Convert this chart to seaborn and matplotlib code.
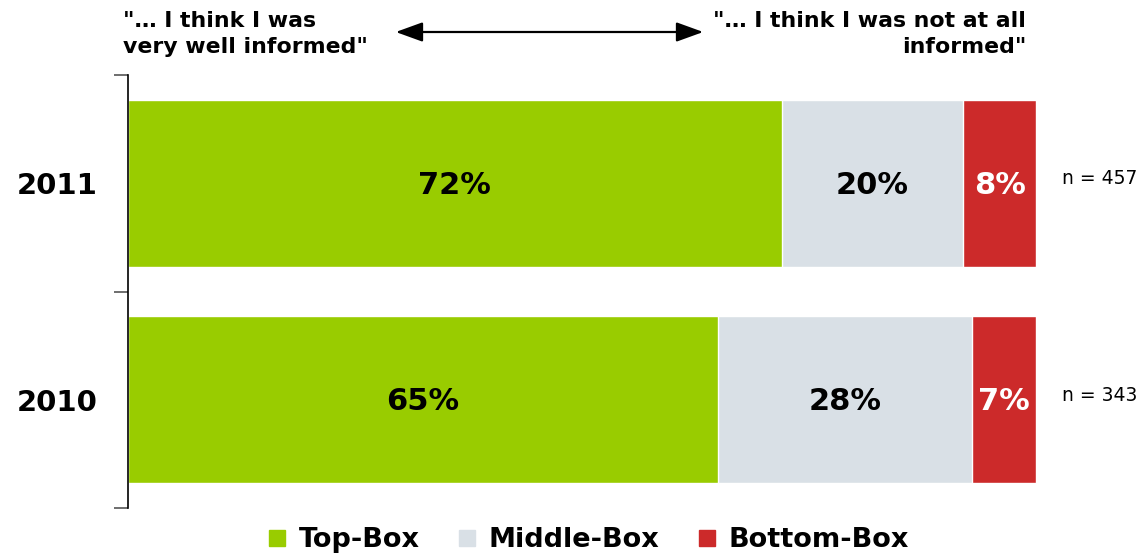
import matplotlib
matplotlib.use("Agg")
import matplotlib.pyplot as plt
from matplotlib.lines import Line2D
from matplotlib.patches import FancyArrowPatch
import seaborn as sns
import pandas as pd
import numpy as np

# Survey data
years = ["2011", "2010"]
top_box = [72, 65]
middle_box = [20, 28]
bottom_box = [8, 7]
sample_sizes = ["n = 457", "n = 343"]
series_names = ["Top-Box", "Middle-Box", "Bottom-Box"]
colors = ["#99CC00", "#D9E0E6", "#CC2A2A"]
label_colors = ["black", "black", "white"]

sns.set_theme(style="white")
plt.rcParams["font.family"] = ["DejaVu Sans"]
plt.rcParams["text.color"] = "black"
plt.rcParams["ytick.labelcolor"] = "black"

fig = plt.figure(figsize=(11.4, 5.55), dpi=100)
ax = fig.add_axes([128 / 1140, 47 / 555, 908 / 1140, 433 / 555])

df = pd.DataFrame({"year": years, "Top-Box": top_box,
                   "Middle-Box": middle_box, "Bottom-Box": bottom_box})
segments = df[series_names].to_numpy(dtype=float)
cum = np.cumsum(segments, axis=1)

# Stacked bars: draw cumulative totals from the widest down
for i in reversed(range(len(series_names))):
    sns.barplot(x=cum[:, i], y=df["year"], orient="h", color=colors[i],
                width=0.77, saturation=1, ax=ax, order=years)

# Value labels centred in each segment, sample size to the right
for r in range(len(years)):
    starts = cum[r] - segments[r]
    for i in range(len(series_names)):
        ax.text(starts[i] + segments[r, i] / 2, r + 0.01,
                f"{int(segments[r, i])}%", ha="center", va="center",
                fontsize=22, fontweight="bold", color=label_colors[i])
    ax.text(102.9, r - 0.02, sample_sizes[r], ha="left", va="center",
            fontsize=13.5, color="black", clip_on=False)

ax.set_xlim(0, 100)
ax.set_ylim(1.5, -0.5)
ax.set_xlabel("")
ax.set_ylabel("")
ax.xaxis.set_visible(False)
for s in ["top", "right", "bottom"]:
    ax.spines[s].set_visible(False)
ax.spines["left"].set_color("black")
ax.spines["left"].set_linewidth(1.2)
ax.spines["left"].set_zorder(5)

ax.set_yticks(range(len(years)))
ax.set_yticklabels(years, fontsize=21, fontweight="bold", color="black")
ax.set_yticks([-0.5, 0.5, 1.5], minor=True)
ax.tick_params(axis="y", which="major", length=0, pad=22)
ax.tick_params(axis="y", which="minor", length=10, width=1.2,
               color="#555555", left=True)

# Scale headings with double-headed arrow
fig.text(123 / 1140, 1 - 11 / 555, '"… I think I was\nvery well informed"',
         ha="left", va="top", fontsize=15.8, fontweight="bold",
         linespacing=1.4)
fig.text(1026 / 1140, 1 - 11 / 555, '"… I think I was not at all\ninformed"',
         ha="right", va="top", fontsize=15.8, fontweight="bold",
         linespacing=1.4, multialignment="right")
fig.add_artist(FancyArrowPatch(
    (393 / 1140, 1 - 32 / 555), (706 / 1140, 1 - 32 / 555),
    transform=fig.transFigure,
    arrowstyle="<|-|>,head_length=0.69,head_width=0.25", mutation_scale=24,
    color="black", linewidth=1.6))

# Legend
handles = [Line2D([0], [0], marker="s", linestyle="none", markersize=11.5,
                  markerfacecolor=c, markeredgecolor=c) for c in colors]
leg = fig.legend(handles, series_names, loc="center",
                 bbox_to_anchor=(589 / 1140, 1 - 540 / 555), ncol=3,
                 frameon=False, handlelength=0.6, handletextpad=0.5,
                 columnspacing=1.44, borderpad=0, borderaxespad=0,
                 prop={"size": 19.5, "weight": "bold"})

fig.savefig("out.png", dpi=100)
